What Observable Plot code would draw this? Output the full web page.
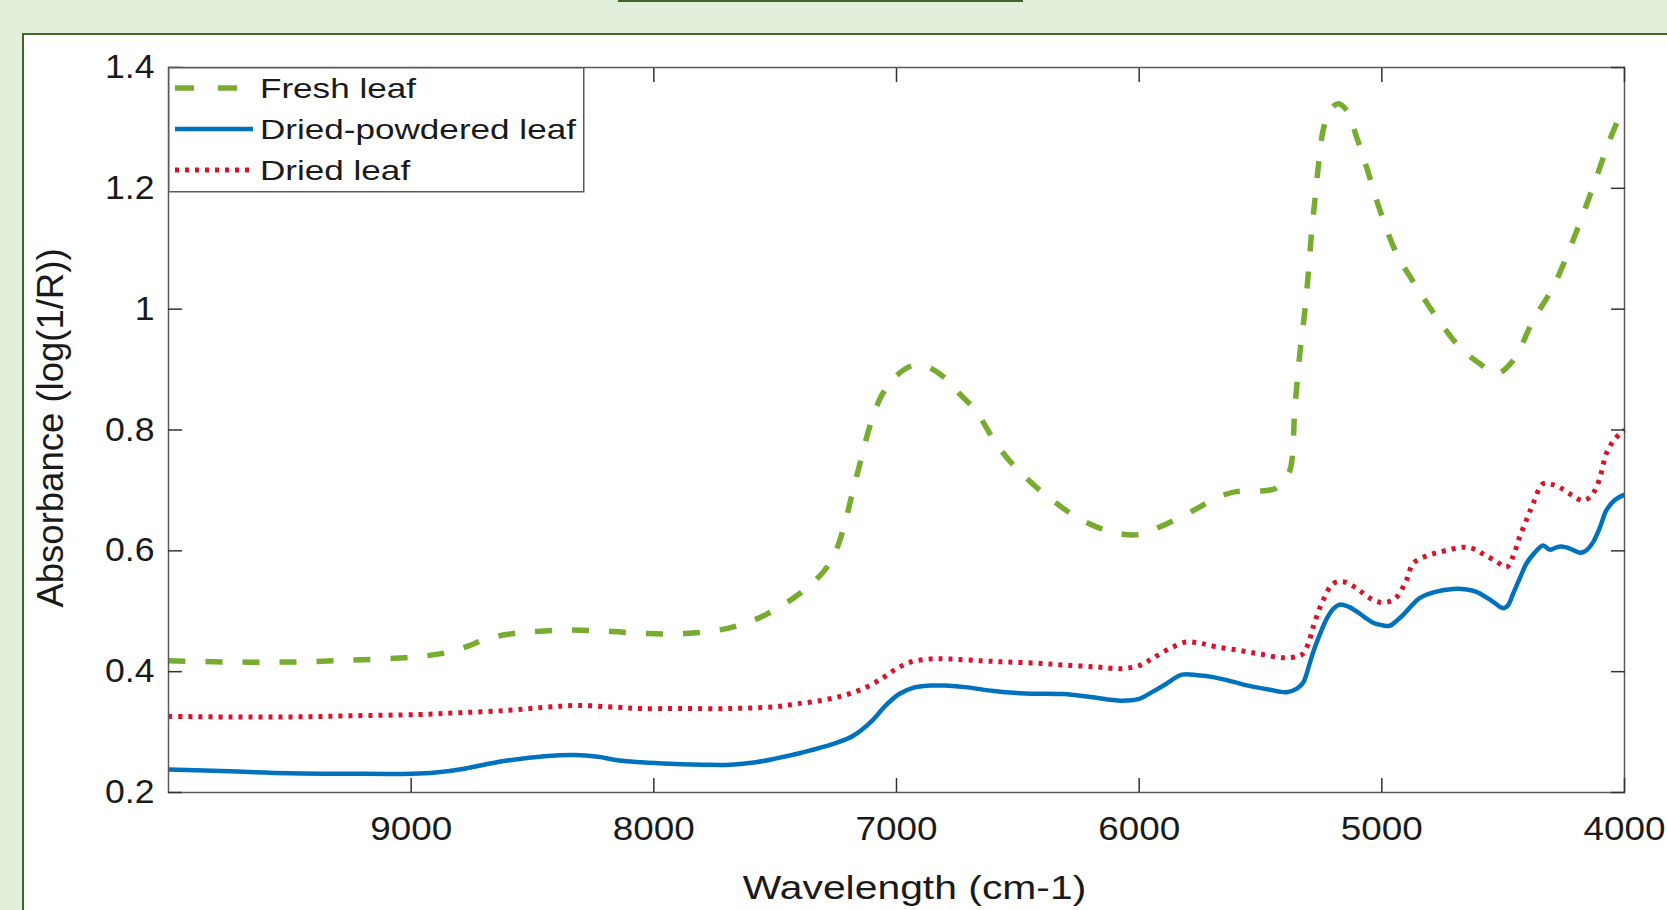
<!DOCTYPE html>
<html>
<head>
<meta charset="utf-8">
<script src="https://cdn.jsdelivr.net/npm/d3@7"></script>
<script src="https://cdn.jsdelivr.net/npm/@observablehq/plot@0.6"></script>
<style>
html, body { margin: 0; padding: 0; }
body { width: 1667px; height: 910px; overflow: hidden; position: relative; background: #e2efda; font-family: "Liberation Sans", Arial, sans-serif; }
#topbar { position: absolute; left: 618px; top: 0; width: 405px; height: 2px; background: #44652a; }
#panel { position: absolute; left: 22px; top: 33px; width: 1700px; height: 950px; background: #fff; border-left: 2px solid #44652a; border-top: 2px solid #44652a; }
#chart { position: absolute; left: 0; top: 0; }
#legend { position: absolute; left: 168px; top: 67px; }
</style>
</head>
<body>
<div id="topbar"></div>
<div id="panel"></div>
<div id="chart"></div>
<div id="legend"></div>
<script>
// ---- data ----
const xTicks = [9000, 8000, 7000, 6000, 5000, 4000];
const yTicks = [0.2, 0.4, 0.6, 0.8, 1, 1.2, 1.4];
const xLabel = "Wavelength (cm-1)";
const yLabel = "Absorbance (log(1/R))";
const seriesNames = ["Fresh leaf", "Dried-powdered leaf", "Dried leaf"];

const freshWave = [10000, 9750, 9500, 9250, 9000, 8860, 8760, 8700, 8600, 8500, 8360, 8200, 8030, 7870, 7730, 7640, 7540, 7400, 7300, 7250, 7210, 7186, 7147, 7107, 7060, 7000, 6930, 6870, 6800, 6740, 6674, 6580, 6485, 6374, 6233, 6100, 6000, 5918, 5776, 5680, 5600, 5500, 5440, 5406, 5379, 5358, 5338, 5317, 5303, 5290, 5276, 5262, 5242, 5214, 5180, 5145, 5104, 5063, 5008, 4939, 4857, 4775, 4679, 4597, 4528, 4459, 4377, 4294, 4212, 4130, 4061, 4000];
const freshAbs  = [0.418, 0.416, 0.416, 0.419, 0.424, 0.431, 0.443, 0.453, 0.462, 0.466, 0.469, 0.467, 0.463, 0.463, 0.469, 0.478, 0.494, 0.529, 0.566, 0.600, 0.650, 0.689, 0.750, 0.810, 0.858, 0.890, 0.907, 0.904, 0.886, 0.860, 0.832, 0.772, 0.728, 0.689, 0.650, 0.630, 0.627, 0.639, 0.667, 0.688, 0.698, 0.699, 0.703, 0.717, 0.733, 0.838, 0.926, 0.998, 1.059, 1.125, 1.180, 1.235, 1.296, 1.329, 1.340, 1.329, 1.285, 1.235, 1.164, 1.092, 1.037, 0.987, 0.937, 0.910, 0.893, 0.915, 0.981, 1.037, 1.114, 1.202, 1.280, 1.338];

const powderWave = [10000, 9750, 9500, 9250, 9000, 8900, 8787, 8700, 8603, 8450, 8327, 8230, 8143, 7960, 7800, 7684, 7580, 7500, 7400, 7316, 7257, 7178, 7100, 7052, 6989, 6926, 6863, 6800, 6706, 6600, 6469, 6311, 6200, 6075, 6000, 5965, 5900, 5823, 5760, 5695, 5620, 5542, 5460, 5393, 5350, 5324, 5300, 5283, 5255, 5228, 5200, 5173, 5140, 5105, 5070, 5036, 5000, 4967, 4940, 4912, 4880, 4843, 4780, 4706, 4650, 4610, 4550, 4500, 4480, 4459, 4430, 4404, 4370, 4336, 4308, 4285, 4260, 4220, 4185, 4160, 4130, 4100, 4075, 4040, 4000];
const powderAbs  = [0.238, 0.235, 0.232, 0.231, 0.231, 0.233, 0.239, 0.246, 0.253, 0.260, 0.262, 0.259, 0.253, 0.248, 0.246, 0.246, 0.250, 0.256, 0.265, 0.274, 0.281, 0.294, 0.319, 0.341, 0.363, 0.374, 0.377, 0.377, 0.374, 0.368, 0.364, 0.363, 0.358, 0.352, 0.355, 0.362, 0.377, 0.395, 0.394, 0.391, 0.384, 0.376, 0.370, 0.366, 0.372, 0.382, 0.410, 0.432, 0.462, 0.487, 0.504, 0.511, 0.508, 0.500, 0.490, 0.481, 0.477, 0.476, 0.484, 0.494, 0.508, 0.522, 0.532, 0.537, 0.536, 0.532, 0.518, 0.505, 0.510, 0.529, 0.556, 0.579, 0.597, 0.609, 0.602, 0.605, 0.607, 0.603, 0.597, 0.600, 0.614, 0.640, 0.667, 0.684, 0.693];

const driedWave = [10000, 9750, 9500, 9250, 8971, 8800, 8603, 8450, 8309, 8150, 8052, 7900, 7684, 7500, 7408, 7300, 7206, 7120, 7052, 7000, 6942, 6860, 6784, 6650, 6548, 6420, 6311, 6180, 6075, 6000, 5949, 5880, 5807, 5750, 5680, 5585, 5500, 5406, 5350, 5324, 5300, 5283, 5242, 5200, 5159, 5120, 5091, 5050, 5009, 4970, 4940, 4900, 4871, 4820, 4761, 4665, 4620, 4583, 4530, 4486, 4460, 4432, 4400, 4377, 4336, 4300, 4267, 4220, 4171, 4140, 4116, 4095, 4075, 4040, 4000];
const driedAbs  = [0.326, 0.325, 0.325, 0.327, 0.329, 0.332, 0.336, 0.341, 0.344, 0.341, 0.339, 0.339, 0.339, 0.342, 0.347, 0.353, 0.362, 0.375, 0.391, 0.405, 0.416, 0.421, 0.421, 0.418, 0.416, 0.414, 0.411, 0.408, 0.405, 0.410, 0.421, 0.437, 0.449, 0.447, 0.441, 0.435, 0.429, 0.423, 0.425, 0.430, 0.450, 0.474, 0.518, 0.546, 0.549, 0.542, 0.534, 0.522, 0.515, 0.516, 0.523, 0.550, 0.579, 0.591, 0.598, 0.606, 0.603, 0.595, 0.583, 0.573, 0.590, 0.623, 0.655, 0.678, 0.711, 0.710, 0.705, 0.693, 0.683, 0.690, 0.705, 0.730, 0.761, 0.785, 0.800];

// ---- styles ----
const seriesColors = ["#77ac30", "#0072bd", "#d7142a"];
const seriesDash = ["17,20", null, "4,6"];
const seriesWidth = [5.5, 4.5, 5];

const waves = [freshWave, powderWave, driedWave];
const absVals = [freshAbs, powderAbs, driedAbs];
const tables = waves.map((w, s) => w.map((x, i) => ({wave: x, abs: absVals[s][i], name: seriesNames[s]})));

const font = "'Liberation Sans', Arial, sans-serif";
const ink = "#1a1a1a";
const drawOrder = [0, 2, 1];

const plot = Plot.plot({
  width: 1667,
  height: 910,
  marginLeft: 168,
  marginRight: 43,
  marginTop: 67,
  marginBottom: 118,
  style: {background: "transparent", fontFamily: font, fontSize: "33.5px", color: ink, overflow: "visible"},
  x: {type: "linear", domain: [10000, 4000]},
  y: {domain: [0.2, 1.4]},
  marks: [
    ...drawOrder.map(s => Plot.line(tables[s], {
      x: "wave", y: "abs", stroke: seriesColors[s], strokeWidth: seriesWidth[s],
      strokeDasharray: seriesDash[s], curve: "catmull-rom", strokeLinecap: "butt"
    })),
    Plot.frame({stroke: "#5a5a5a", strokeWidth: 1.5}),
    // inward ticks on all four sides
    Plot.axisX(xTicks, {anchor: "bottom", tickSize: -14, fill: "none", stroke: "#333", strokeWidth: 1.5}),
    Plot.axisX(xTicks, {anchor: "top", tickSize: -14, fill: "none", stroke: "#333", strokeWidth: 1.5}),
    Plot.axisY(yTicks, {anchor: "left", tickSize: -14, fill: "none", stroke: "#333", strokeWidth: 1.5}),
    Plot.axisY(yTicks, {anchor: "right", tickSize: -14, fill: "none", stroke: "#333", strokeWidth: 1.5}),
    // tick labels
    Plot.axisX(xTicks, {anchor: "bottom", tickSize: 0, tickPadding: 24, tickFormat: d => String(d), label: null, fontSize: 33.5, fill: ink}),
    Plot.axisY(yTicks, {anchor: "left", tickSize: 0, tickPadding: 14, tickFormat: d => String(d), label: null, fontSize: 33, fill: ink}),
    // axis titles
    Plot.text([xLabel], {text: d => d, frameAnchor: "bottom", textAnchor: "middle", lineAnchor: "top", dy: 83, dx: 18, fontSize: 33.5, fill: ink}),
    Plot.text([yLabel], {text: d => d, frameAnchor: "left", textAnchor: "middle", lineAnchor: "top", rotate: -90, dx: -131, dy: -2, fontSize: 36.5, fill: ink})
  ]
});
document.getElementById("chart").appendChild(plot);

// horizontal stretch of the text, as in the reference
function stretchText(test, k) {
  plot.querySelectorAll("text").forEach(t => {
    if (test(t)) t.setAttribute("transform", (t.getAttribute("transform") || "") + ` scale(${k},1)`);
  });
}
const inGroup = (t, label) => t.parentNode && t.parentNode.getAttribute("aria-label") === label;
stretchText(t => inGroup(t, "x-axis tick label"), 1.1);
stretchText(t => inGroup(t, "y-axis tick label"), 1.08);
stretchText(t => t.textContent === xLabel, 1.22);

// ---- legend ----
const legW = 415, legH = 124;
const leg = d3.select("#legend").append("svg").attr("width", legW + 2).attr("height", legH + 2);
leg.append("rect").attr("x", 0.75).attr("y", 0.75).attr("width", legW).attr("height", legH)
  .attr("fill", "#fff").attr("stroke", "#5a5a5a").attr("stroke-width", 1.5);
const rowY = [21, 62, 103];
const k = 1.3;
[0, 1, 2].forEach((s, r) => {
  leg.append("line").attr("x1", 7).attr("x2", s === 0 ? 72 : 85).attr("y1", rowY[r]).attr("y2", rowY[r])
    .attr("stroke", seriesColors[s]).attr("stroke-width", seriesWidth[s])
    .attr("stroke-dasharray", s === 0 ? "19,24" : seriesDash[s]);
  leg.append("text").attr("x", 92 / k).attr("y", rowY[r] + 10.5)
    .attr("transform", `scale(${k},1)`)
    .attr("font-family", font).attr("font-size", 27).attr("fill", ink)
    .text(seriesNames[s]);
});
</script>
</body>
</html>
